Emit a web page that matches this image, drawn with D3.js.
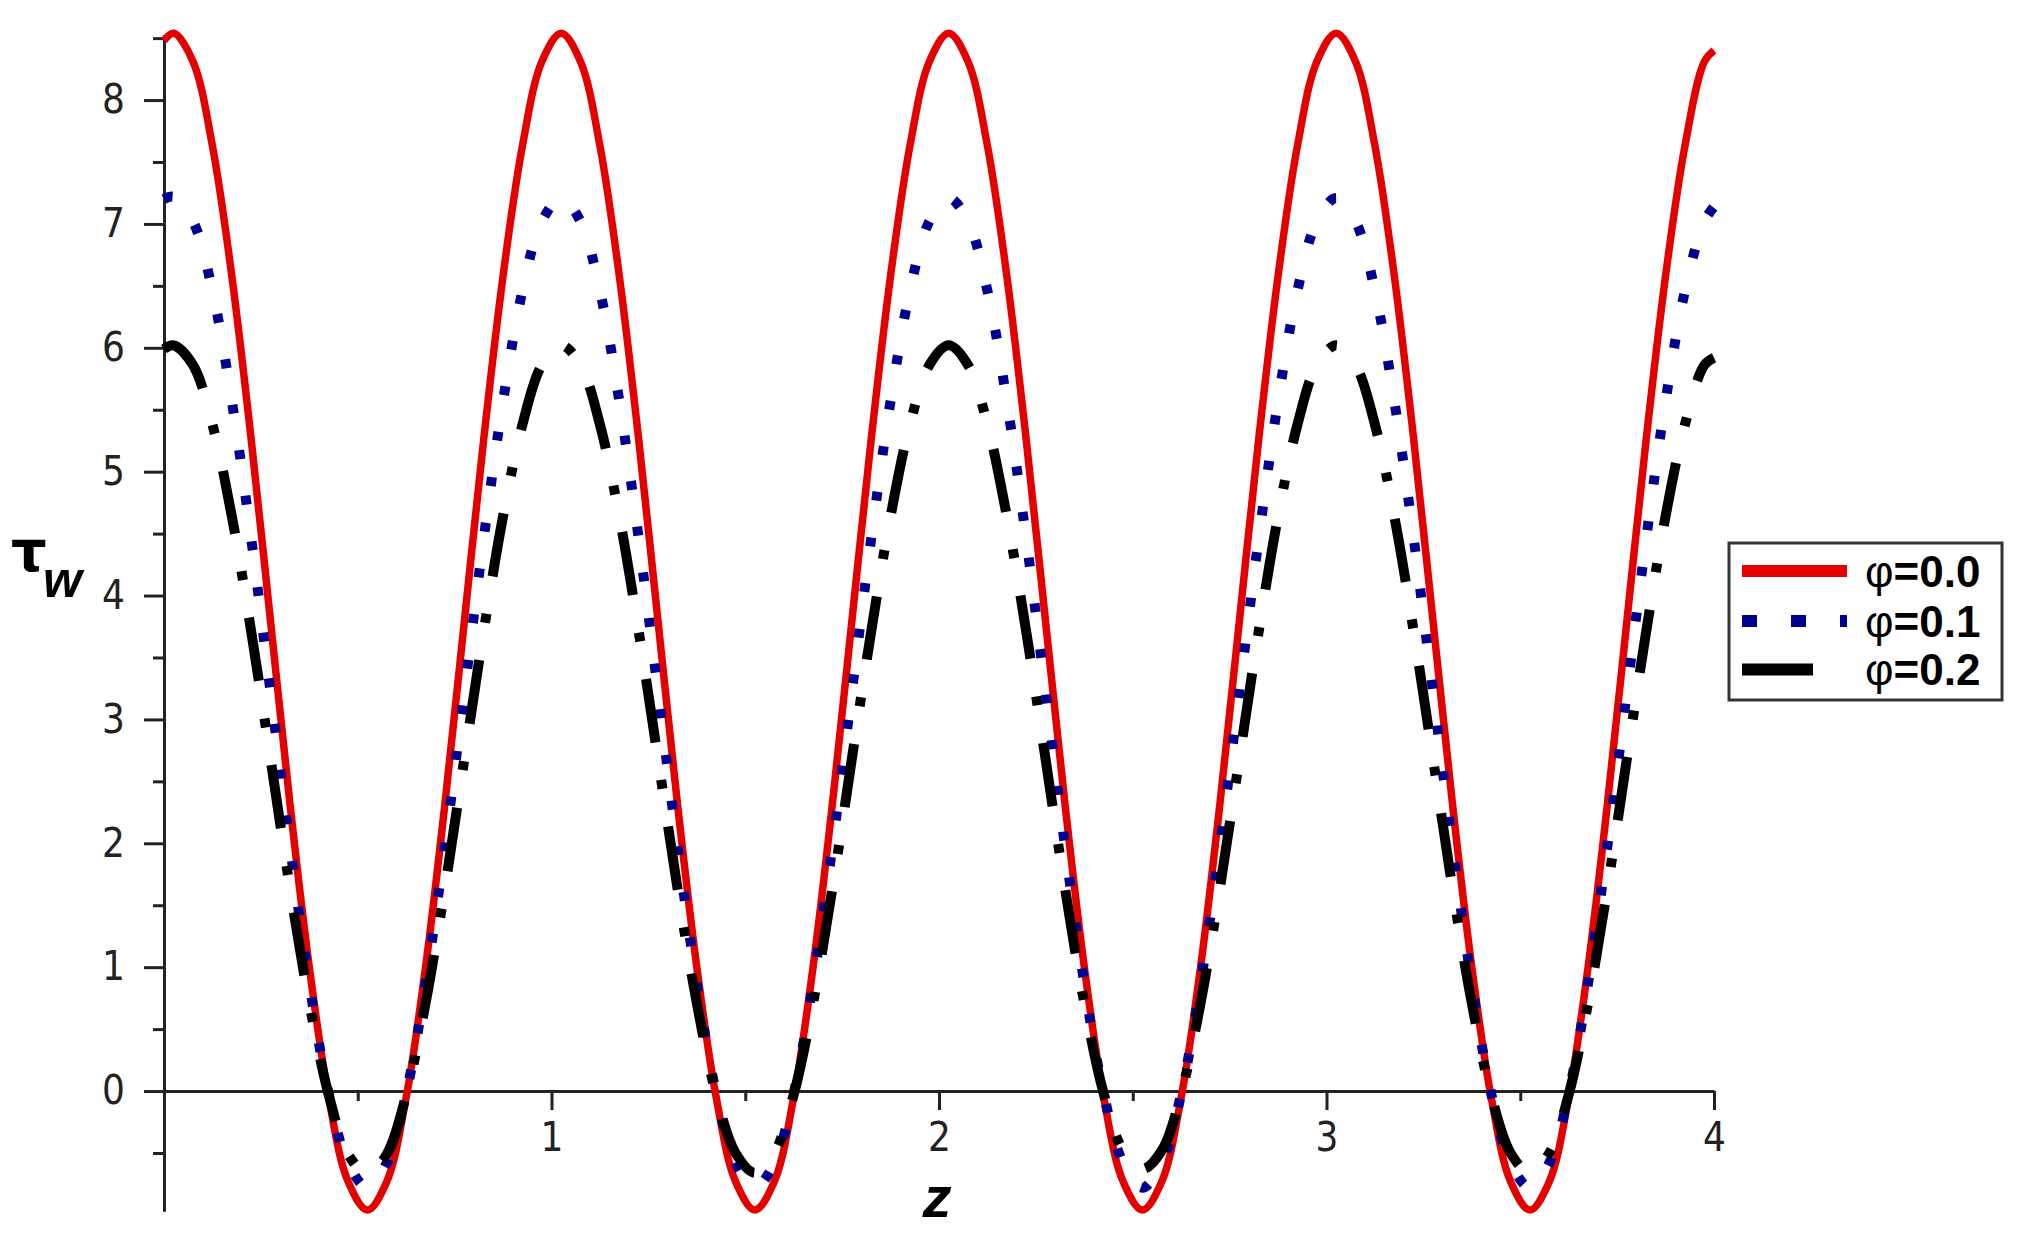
<!DOCTYPE html>
<html>
<head>
<meta charset="utf-8">
<script src="https://cdn.jsdelivr.net/npm/d3@7/dist/d3.min.js"></script>
<style>
  html, body { margin: 0; padding: 0; background: #fff; }
  svg { display: block; }
</style>
</head>
<body>
<svg id="chart" width="2033" height="1248"></svg>
<script>
// ---- data ----
const zValues = [0, 0.025, 0.075, 0.125, 0.175, 0.225, 0.275, 0.325, 0.375, 0.425, 0.475,
  0.525, 0.575, 0.625, 0.675, 0.725, 0.775, 0.825, 0.875, 0.925, 0.975,
  1.025, 1.075, 1.125, 1.175, 1.225, 1.275, 1.325, 1.375, 1.425, 1.475,
  1.525, 1.575, 1.625, 1.675, 1.725, 1.775, 1.825, 1.875, 1.925, 1.975,
  2.025, 2.075, 2.125, 2.175, 2.225, 2.275, 2.325, 2.375, 2.425, 2.475,
  2.525, 2.575, 2.625, 2.675, 2.725, 2.775, 2.825, 2.875, 2.925, 2.975,
  3.025, 3.075, 3.125, 3.175, 3.225, 3.275, 3.325, 3.375, 3.425, 3.475,
  3.525, 3.575, 3.625, 3.675, 3.725, 3.775, 3.825, 3.875, 3.925, 3.975, 4.0];

const tauPhi00 = [8.48, 8.54, 8.31, 7.63, 6.58, 5.26, 3.79, 2.32, 1.00, -0.05, -0.73,
  -0.96, -0.73, -0.05, 1.00, 2.32, 3.79, 5.26, 6.58, 7.63, 8.31,
  8.54, 8.31, 7.63, 6.58, 5.26, 3.79, 2.32, 1.00, -0.05, -0.73,
  -0.96, -0.73, -0.05, 1.00, 2.32, 3.79, 5.26, 6.58, 7.63, 8.31,
  8.54, 8.31, 7.63, 6.58, 5.26, 3.79, 2.32, 1.00, -0.05, -0.73,
  -0.96, -0.73, -0.05, 1.00, 2.32, 3.79, 5.26, 6.58, 7.63, 8.31,
  8.54, 8.31, 7.63, 6.58, 5.26, 3.79, 2.32, 1.00, -0.05, -0.73,
  -0.96, -0.73, -0.05, 1.00, 2.32, 3.79, 5.26, 6.58, 7.63, 8.31, 8.40];

const tauPhi01 = [7.20, 7.22, 7.02, 6.46, 5.57, 4.46, 3.22, 1.98, 0.87, -0.02, -0.58,
  -0.78, -0.58, -0.02, 0.87, 1.98, 3.22, 4.46, 5.57, 6.46, 7.02,
  7.21, 7.02, 6.46, 5.57, 4.46, 3.22, 1.98, 0.87, -0.02, -0.58,
  -0.78, -0.58, -0.02, 0.87, 1.98, 3.22, 4.46, 5.57, 6.46, 7.02,
  7.21, 7.02, 6.46, 5.57, 4.46, 3.22, 1.98, 0.87, -0.02, -0.58,
  -0.78, -0.58, -0.02, 0.87, 1.98, 3.22, 4.46, 5.57, 6.46, 7.02,
  7.21, 7.02, 6.46, 5.57, 4.46, 3.22, 1.98, 0.87, -0.02, -0.58,
  -0.78, -0.58, -0.02, 0.87, 1.98, 3.22, 4.46, 5.57, 6.46, 7.02, 7.14];

const tauPhi02 = [5.99, 6.02, 5.86, 5.38, 4.64, 3.71, 2.68, 1.64, 0.71, -0.03, -0.51,
  -0.67, -0.51, -0.03, 0.71, 1.64, 2.68, 3.71, 4.64, 5.38, 5.86,
  6.02, 5.86, 5.38, 4.64, 3.71, 2.68, 1.64, 0.71, -0.03, -0.50,
  -0.66, -0.50, -0.03, 0.71, 1.64, 2.68, 3.71, 4.64, 5.38, 5.86,
  6.02, 5.86, 5.38, 4.64, 3.71, 2.68, 1.64, 0.71, -0.02, -0.48,
  -0.63, -0.48, -0.02, 0.71, 1.64, 2.68, 3.71, 4.64, 5.38, 5.86,
  6.02, 5.86, 5.38, 4.64, 3.71, 2.68, 1.64, 0.71, -0.03, -0.50,
  -0.66, -0.50, -0.03, 0.71, 1.64, 2.68, 3.71, 4.64, 5.38, 5.86, 5.92];

const seriesNames = ["φ=0.0", "φ=0.1", "φ=0.2"];
const xTickValues = [1, 2, 3, 4];
const xMinorTicks = [0.5, 1.5, 2.5, 3.5];
const yTickValues = [0, 1, 2, 3, 4, 5, 6, 7, 8];
const yMinorTicks = [-0.5, 0.5, 1.5, 2.5, 3.5, 4.5, 5.5, 6.5, 7.5, 8.5];

// ---- drawing ----
const svg = d3.select("#chart");
svg.append("rect").attr("width", 2033).attr("height", 1248).attr("fill", "#fff");

const x = d3.scaleLinear().domain([0, 4]).range([164, 1714]);
const y = d3.scaleLinear().domain([-0.97, 8.53]).range([1211.2, 34.4]);

const axisColor = "#222";
const tickFont = "'Liberation Sans Narrow', 'DejaVu Sans Condensed', 'Arial Narrow', sans-serif";

// y axis
const yAxisG = svg.append("g").attr("transform", `translate(${x(0)},0)`);
yAxisG.call(d3.axisLeft(y).tickValues(yTickValues).tickSize(20).tickSizeOuter(0).tickPadding(19).tickFormat(d3.format("d")));
const yMinorG = svg.append("g").attr("transform", `translate(${x(0)},0)`);
yMinorG.call(d3.axisLeft(y).tickValues(yMinorTicks).tickSize(11).tickSizeOuter(0).tickFormat(""));
yMinorG.select(".domain").remove();

// x axis
const xAxisG = svg.append("g").attr("transform", `translate(0,${y(0)})`);
xAxisG.call(d3.axisBottom(x).tickValues(xTickValues).tickSize(19).tickSizeOuter(0).tickPadding(13).tickFormat(d3.format("d")));
const xMinorG = svg.append("g").attr("transform", `translate(0,${y(0)})`);
xMinorG.call(d3.axisBottom(x).tickValues(xMinorTicks).tickSize(10).tickSizeOuter(0).tickFormat(""));
xMinorG.select(".domain").remove();

svg.selectAll(".domain, .tick line").attr("stroke", axisColor).attr("stroke-width", 3);
svg.selectAll(".tick text")
  .attr("fill", "#222")
  .style("font-family", tickFont)
  .style("font-size", "40px");

// curves
const rows = zValues.map((z, i) => ({ z, a: tauPhi00[i], b: tauPhi01[i], c: tauPhi02[i] }));
const mkLine = key => d3.line().x(d => x(d.z)).y(d => y(d[key])).curve(d3.curveCatmullRom.alpha(0.5));

const styles = [
  { key: "a", color: "#e50000", width: 7.5, dash: null },
  { key: "b", color: "#000090", width: 10, dash: "9 37" },
  { key: "c", color: "#000000", width: 10, dash: "64 38 9 38" }
];
styles.forEach(s => {
  svg.append("path")
    .datum(rows)
    .attr("d", mkLine(s.key))
    .attr("fill", "none")
    .attr("stroke", s.color)
    .attr("stroke-width", s.width)
    .attr("stroke-linejoin", "round")
    .attr("stroke-dasharray", s.dash);
});

// axis titles
svg.append("text").attr("x", 11).attr("y", 571)
  .style("font-family", "'DejaVu Sans', 'Liberation Sans', sans-serif")
  .style("font-weight", "bold").style("font-size", "56px").attr("fill", "#000").text("τ");
svg.append("text").attr("x", 43).attr("y", 597)
  .style("font-family", "'Liberation Sans', Arial, sans-serif")
  .style("font-weight", "bold").style("font-style", "italic").style("font-size", "50px").attr("fill", "#000").text("w");
svg.append("text").attr("x", 937).attr("y", 1217).attr("text-anchor", "middle")
  .style("font-family", "'Liberation Sans', Arial, sans-serif")
  .style("font-weight", "bold").style("font-style", "italic").style("font-size", "58px").attr("fill", "#000").text("z");

// legend
const lg = svg.append("g");
lg.append("rect").attr("x", 1729).attr("y", 543).attr("width", 273).attr("height", 157)
  .attr("fill", "#fff").attr("stroke", "#333").attr("stroke-width", 3);
const legendRows = [
  { name: seriesNames[0], color: "#e50000", y: 571, x2: 1847, dash: null },
  { name: seriesNames[1], color: "#000090", y: 621, x2: 1847, dash: "15 34" },
  { name: seriesNames[2], color: "#000000", y: 669.5, x2: 1813, dash: null }
];
const textBase = [587, 637, 685];
legendRows.forEach((r, i) => {
  lg.append("line").attr("x1", 1742).attr("x2", r.x2).attr("y1", r.y).attr("y2", r.y)
    .attr("stroke", r.color).attr("stroke-width", 12).attr("stroke-dasharray", r.dash);
  const t = lg.append("text").attr("x", 1865).attr("y", textBase[i])
    .style("font-family", "'Liberation Sans', Arial, sans-serif")
    .style("font-size", "44px").attr("fill", "#000");
  t.append("tspan").style("font-weight", "normal").text(r.name.slice(0, 1));
  t.append("tspan").style("font-weight", "bold").text(r.name.slice(1));
});
</script>
</body>
</html>
